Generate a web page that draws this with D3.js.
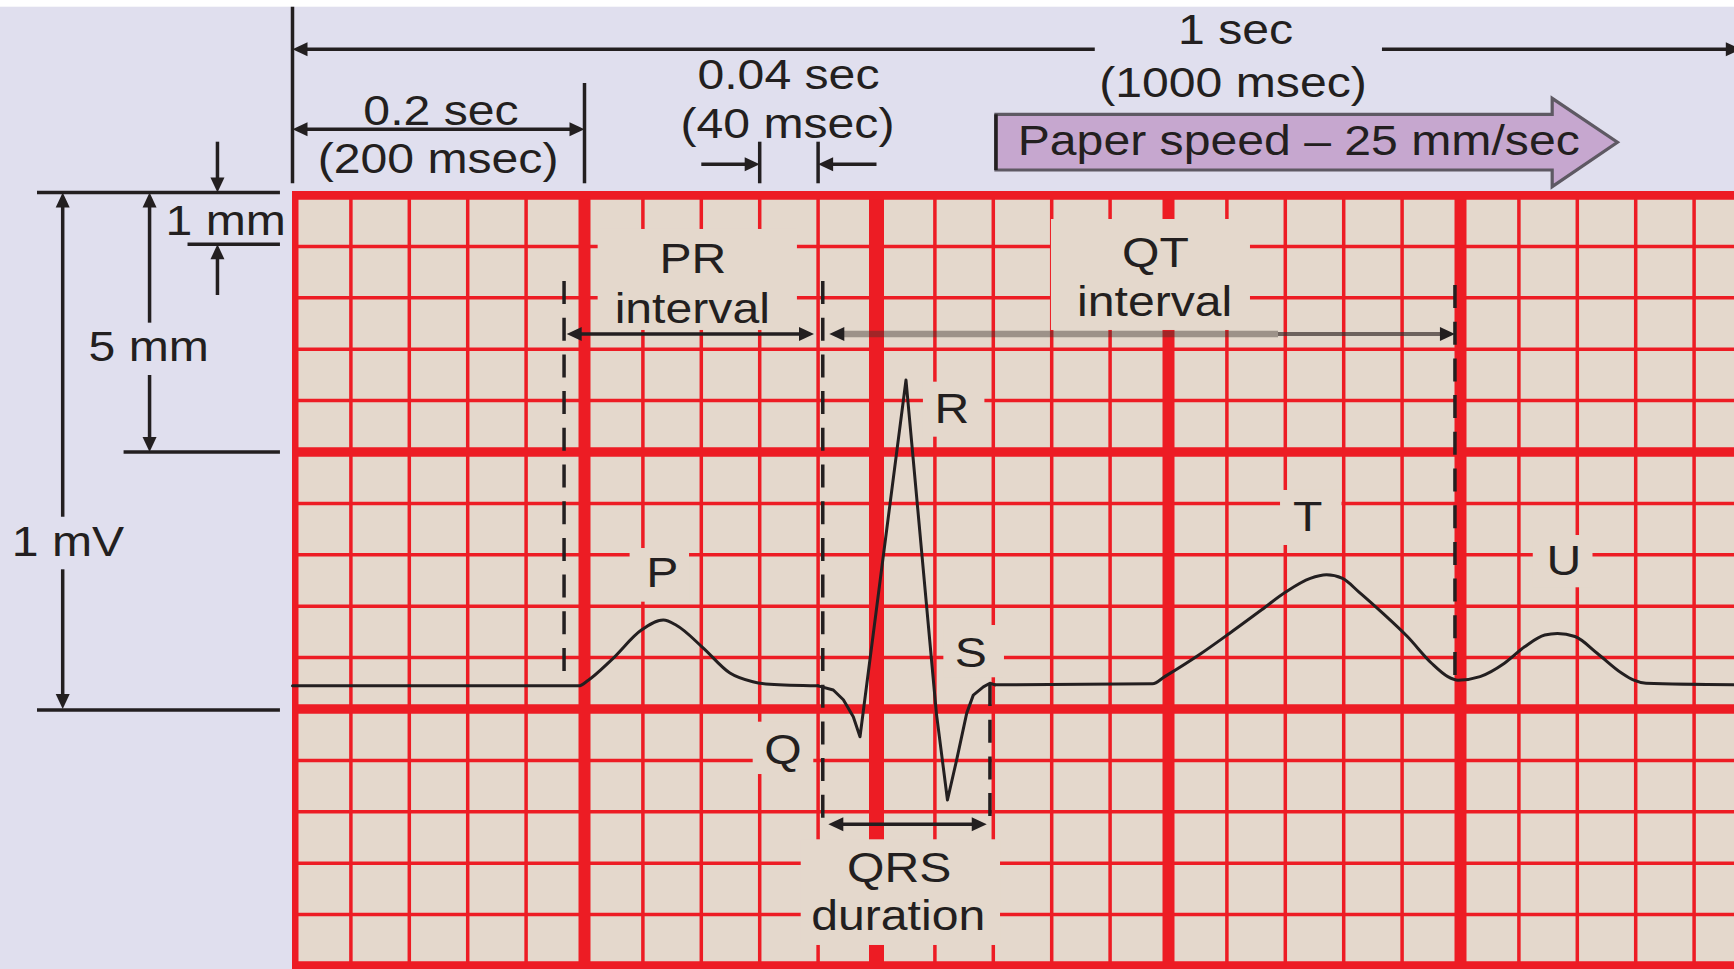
<!DOCTYPE html>
<html><head><meta charset="utf-8">
<script src="https://cdn.jsdelivr.net/npm/d3@7"></script>
<style>html,body{margin:0;padding:0;background:#E0DFEE;overflow:hidden}svg{display:block}</style>
</head><body>
<svg id="c" width="1734" height="969"></svg>
<script>
// ---------------- DATA ----------------
// ECG trace: time (s) and voltage (mV)
const ecgTime = [0, 0.196, 0.2026, 0.2183, 0.2392, 0.254, 0.2629, 0.2812, 0.2996, 0.3153, 0.327, 0.36,
  0.3704, 0.3773, 0.3841, 0.3887, 0.4202, 0.441, 0.4486, 0.4549, 0.4618, 0.4663, 0.4732, 0.4777, 0.4812,
  0.5891, 0.5974, 0.6223, 0.6417, 0.6638, 0.6805, 0.6971, 0.7082, 0.7192, 0.7303, 0.7469, 0.7636, 0.7802,
  0.7913, 0.7983, 0.8134, 0.8301, 0.8439, 0.8577, 0.8664, 0.8784, 0.8938, 0.9103, 0.9187, 0.9271, 0.99];
const ecgMv = [0.045, 0.045, 0.056, 0.095, 0.154, 0.173, 0.163, 0.119, 0.070, 0.053, 0.048, 0.045,
  0.037, 0.018, -0.015, -0.054, 0.640, -0.008, -0.177, -0.099, -0.008, 0.027, 0.043, 0.050, 0.047,
  0.049, 0.063, 0.108, 0.147, 0.193, 0.228, 0.254, 0.261, 0.254, 0.228, 0.186, 0.141, 0.089,
  0.063, 0.056, 0.063, 0.089, 0.121, 0.144, 0.147, 0.141, 0.108, 0.070, 0.056, 0.050, 0.047];
// QRS complex indices drawn with straight segments (sharp deflections)
const qrsRange = [11, 24];

// Paper grid: small box = 0.04 s x 0.1 mV, big box every 5
const smallBoxSec = 0.04;
const smallBoxMv = 0.1;
const bigBoxEvery = 5;

// Text
const topLabels = ["1 sec", "(1000 msec)", "0.2 sec", "(200 msec)", "0.04 sec", "(40 msec)", "Paper speed – 25 mm/sec"];
const sideLabels = ["1 mm", "5 mm", "1 mV"];
const waveLabels = ["P", "Q", "R", "S", "T", "U"];
const intervalLabels = ["PR", "interval", "QT", "interval", "QRS", "duration"];

// ---------------- LAYOUT ----------------
const W = 1734, H = 969;
const INK = '#231F20', RED = '#ED1C24', PAPER = '#E4D8CC', LAV = '#E0DFEE';
const x = d3.scaleLinear().domain([0, 1]).range([292.5, 1752.5]);
const y = d3.scaleLinear().domain([-0.5, 1]).range([966, 195]);

// label anchors (time s, mV baseline)
const topPos = [[0.646, 1.2932], [0.6442, 1.1912], [0.1017, 1.1362], [0.0997, 1.0434], [0.3397, 1.2056], [0.339, 1.1103], [0.6892, 1.0778]];
const sidePos = [[-0.0457, 0.9222], [-0.0985, 0.6776], [-0.1538, 0.2977]];
const wavePos = [[0.2533, 0.2379], [0.336, -0.107], [0.4517, 0.5558], [0.4646, 0.0823], [0.6954, 0.3469], [0.8709, 0.2607]];
const intervalPos = [[0.2742, 0.8477], [0.2738, 0.7516], [0.591, 0.8605], [0.5905, 0.7646], [0.4155, -0.336], [0.4149, -0.43]];
// paper knock-outs behind labels [t1, t2, vTop, vBottom]
const knockouts = [[0.209, 0.3455, 0.9339, 0.7374], [0.5195, 0.6558, 0.9533, 0.7374], [0.4318, 0.4739, 0.6368, 0.5298],
  [0.2309, 0.2716, 0.3132, 0.2088], [0.4458, 0.4873, 0.1634, 0.0617], [0.3152, 0.3567, -0.0247, -0.1265],
  [0.6764, 0.7185, 0.4261, 0.3191], [0.8495, 0.8904, 0.3385, 0.2368], [0.3481, 0.4846, -0.2535, -0.4591]];

const svg = d3.select('#c');
svg.append('rect').attr('width', W).attr('height', H).attr('fill', LAV);
svg.append('rect').attr('width', W).attr('height', 6.7).attr('fill', '#fff');

// ---------------- GRID ----------------
const gx0 = 292, gy0 = 191;
svg.append('defs').append('clipPath').attr('id', 'gc').append('rect')
  .attr('x', gx0).attr('y', gy0).attr('width', W - gx0).attr('height', H - gy0);
const grid = svg.append('g').attr('clip-path', 'url(#gc)');
grid.append('rect').attr('x', gx0).attr('y', gy0).attr('width', W - gx0).attr('height', H - gy0).attr('fill', PAPER);

const nV = Math.ceil(x.invert(W) / smallBoxSec) + 1;
const vLines = d3.range(0, nV).map(k => ({k, t: k * smallBoxSec, major: k % bigBoxEvery === 0}));
const hLines = d3.range(-5, 11).map(k => ({k, v: k * smallBoxMv, major: k % bigBoxEvery === 0}));

function drawGrid(major) {
  grid.selectAll(null).data(vLines.filter(d => d.major === major)).join('line')
    .attr('x1', d => x(d.t)).attr('x2', d => x(d.t)).attr('y1', gy0).attr('y2', H)
    .attr('stroke', RED).attr('stroke-width', d => d.major ? (d.k === 10 ? 15 : 12) : 3.5);
  grid.selectAll(null).data(hLines.filter(d => d.major === major)).join('line')
    .attr('y1', d => y(d.v)).attr('y2', d => y(d.v)).attr('x1', gx0).attr('x2', W)
    .attr('stroke', RED).attr('stroke-width', d => d.major ? 9.5 : 3.5);
}
drawGrid(false);
drawGrid(true);

grid.selectAll(null).data(knockouts).join('rect')
  .attr('x', d => x(d[0])).attr('width', d => x(d[1]) - x(d[0]))
  .attr('y', d => y(d[2])).attr('height', d => y(d[3]) - y(d[2]))
  .attr('fill', PAPER);

// ---------------- HELPERS ----------------
const HL = 15, HW = 7;
const ann = svg.append('g');
function head(g, tx, ty, ux, uy, color) {
  const bx = tx - ux * HL, by = ty - uy * HL, nx = -uy, ny = ux;
  g.append('path').attr('d', `M${tx},${ty}L${bx + nx * HW},${by + ny * HW}L${bx - nx * HW},${by - ny * HW}Z`)
    .attr('fill', color || INK);
}
function seg(g, x1, y1, x2, y2, w, color, extra) {
  const l = g.append('line').attr('x1', x1).attr('y1', y1).attr('x2', x2).attr('y2', y2)
    .attr('stroke', color || INK).attr('stroke-width', w || 3.5);
  if (extra) extra(l);
  return l;
}
function arrow(t1, v1, t2, v2, both) {
  const X1 = x(t1), Y1 = y(v1), X2 = x(t2), Y2 = y(v2);
  const L = Math.hypot(X2 - X1, Y2 - Y1), ux = (X2 - X1) / L, uy = (Y2 - Y1) / L;
  const sx = both ? X1 + ux * (HL - 2) : X1, sy = both ? Y1 + uy * (HL - 2) : Y1;
  seg(ann, sx, sy, X2 - ux * (HL - 2), Y2 - uy * (HL - 2));
  head(ann, X2, Y2, ux, uy);
  if (both) head(ann, X1, Y1, -ux, -uy);
}
function hline(t1, t2, v) { seg(ann, x(t1), y(v), x(t2), y(v)); }
function vline(t, v1, v2) { seg(ann, x(t), y(v1), x(t), y(v2)); }

// ---------------- TOP ANNOTATIONS ----------------
vline(0, 1.3663, 1.0228);
vline(0.2, 1.2179, 1.0228);
vline(0.32, 1.1037, 1.0228);
vline(0.36, 1.1037, 1.0228);
arrow(0.5495, 1.2835, 0, 1.2835);
arrow(0.7462, 1.2835, 0.992, 1.2835);
arrow(0, 1.1278, 0.2, 1.1278, true);
arrow(0.28, 1.0597, 0.32, 1.0597);
arrow(0.40, 1.0597, 0.36, 1.0597);

const ps = {l: 0.4818, r: 0.8628, tip: 0.9075, top: 1.157, bot: 1.0486, htop: 1.1881, hbot: 1.0162, mid: 1.1027};
ann.append('path')
  .attr('d', `M${x(ps.l)},${y(ps.top)}L${x(ps.r)},${y(ps.top)}L${x(ps.r)},${y(ps.htop)}L${x(ps.tip)},${y(ps.mid)}` +
    `L${x(ps.r)},${y(ps.hbot)}L${x(ps.r)},${y(ps.bot)}L${x(ps.l)},${y(ps.bot)}Z`)
  .attr('fill', '#C6A7CF').attr('stroke', '#5E5963').attr('stroke-width', 3.2).attr('stroke-linejoin', 'miter');
seg(ann, x(ps.l), y(ps.top), x(ps.l), y(ps.bot), 3.5, INK);

// ---------------- LEFT ANNOTATIONS ----------------
hline(-0.175, -0.0086, 1.005);
hline(-0.0719, -0.0086, 0.9041);
hline(-0.1157, -0.0086, 0.5);
hline(-0.175, -0.0086, -0.002);
arrow(-0.0514, 1.1037, -0.0514, 1.005);
arrow(-0.0514, 0.8054, -0.0514, 0.9041);
arrow(-0.0979, 0.7516, -0.0979, 1.005);
arrow(-0.0979, 0.6498, -0.0979, 0.5);
arrow(-0.1574, 0.3741, -0.1574, 1.005);
arrow(-0.1574, 0.2718, -0.1574, 0.0);

// ---------------- DASHED MARKERS ----------------
const dashes = [[0.186, 0.8327, 0.0623], [0.3632, 0.8327, -0.2335], [0.4777, 0.0506, -0.2335], [0.7962, 0.8249, 0.0603]];
ann.selectAll(null).data(dashes).join('line')
  .attr('x1', d => x(d[0])).attr('x2', d => x(d[0])).attr('y1', d => y(d[1])).attr('y2', d => y(d[2]))
  .attr('stroke', INK).attr('stroke-width', 3.5).attr('stroke-dasharray', '23 13.7');

// ---------------- ECG TRACE ----------------
const pts = d3.zip(ecgTime, ecgMv);
const smooth = d3.line().x(d => x(d[0])).y(d => y(d[1])).curve(d3.curveMonotoneX);
const sharp = d3.line().x(d => x(d[0])).y(d => y(d[1])).curve(d3.curveLinear);
const traceParts = [
  {d: pts.slice(0, qrsRange[0] + 1), f: smooth},
  {d: pts.slice(qrsRange[0], qrsRange[1] + 1), f: sharp},
  {d: pts.slice(qrsRange[1]), f: smooth}
];
ann.selectAll(null).data(traceParts).join('path')
  .attr('d', p => p.f(p.d))
  .attr('fill', 'none').attr('stroke', INK).attr('stroke-width', 3).attr('stroke-linejoin', 'round').attr('stroke-linecap', 'round');

// ---------------- INTERVAL ARROWS ----------------
arrow(0.1878, 0.7296, 0.3572, 0.7296, true);
arrow(0.3670, -0.2243, 0.4755, -0.2243, true);
(function () {
  const v = 0.7296, tL = 0.3677, tM = 0.675, tR = 0.7962;
  seg(ann, x(tL) + HL - 2, y(v), x(tM), y(v), 6.5, '#3b312d', l => l.attr('stroke-opacity', 0.42));
  seg(ann, x(tM), y(v), x(tR) - HL + 2, y(v), 4, '#3b312d', l => l.attr('stroke-opacity', 0.7));
  head(ann, x(tL), y(v), -1, 0);
  head(ann, x(tR), y(v), 1, 0);
})();

// ---------------- TEXT ----------------
const txt = svg.append('g').attr('font-family', '"Liberation Sans", Arial, Helvetica, sans-serif')
  .attr('font-size', 43).attr('fill', INK).attr('text-anchor', 'middle');
function labels(arr, pos) {
  txt.selectAll(null).data(arr).join('text')
    .attr('transform', (d, i) => `translate(${x(pos[i][0])},${y(pos[i][1])}) scale(1.12,1)`)
    .text(d => d);
}
labels(topLabels, topPos);
labels(sideLabels, sidePos);
labels(waveLabels, wavePos);
labels(intervalLabels, intervalPos);
</script>
</body></html>
